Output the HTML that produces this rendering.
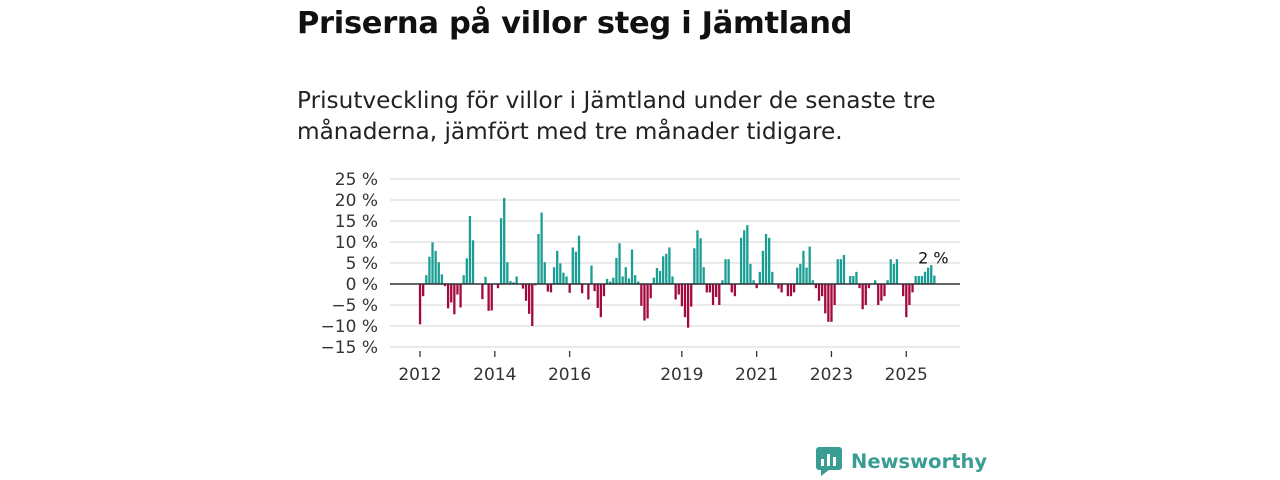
<!DOCTYPE html>
<html><head><meta charset="utf-8"><style>
body{margin:0;width:1280px;height:480px;background:#fff;font-family:"Liberation Sans","DejaVu Sans",sans-serif;overflow:hidden;position:relative}
h1{position:absolute;left:297px;top:6px;margin:0;font-size:30.5px;font-weight:bold;color:#111;font-family:"DejaVu Sans","Liberation Sans",sans-serif;letter-spacing:-0.3px}
.sub{position:absolute;left:297px;top:85px;margin:0;font-size:23.2px;line-height:31px;color:#222;font-family:"DejaVu Sans","Liberation Sans",sans-serif}
</style></head><body>
<h1>Priserna på villor steg i Jämtland</h1>
<p class="sub">Prisutveckling för villor i Jämtland under de senaste tre<br>månaderna, jämfört med tre månader tidigare.</p>
<svg id="chart" width="1280" height="480" style="position:absolute;left:0;top:0" font-family="DejaVu Sans, Liberation Sans, sans-serif"></svg>
<div style="position:absolute;left:815px;top:446px;display:flex;align-items:center;gap:8px">
<svg width="28" height="30"><rect x="1" y="1" width="26" height="23" rx="3" fill="#3a9d93"/><polygon points="6,24 14,24 6,30" fill="#3a9d93"/><rect x="6" y="13" width="3" height="7" fill="#fff"/><rect x="12" y="8" width="3" height="12" fill="#fff"/><rect x="18" y="11" width="3" height="9" fill="#fff"/></svg>
<span style="font-size:19.5px;color:#3a9d93;font-weight:bold;font-family:'DejaVu Sans',sans-serif">Newsworthy</span></div>
<script>
const values=[-9.6,-2.9,2.1,6.5,9.9,7.9,5.2,2.3,-0.5,-5.8,-4.4,-7.2,-2.5,-5.6,2.1,6.1,16.2,10.4,0,0,-3.6,1.7,-6.4,-6.3,0,-1.0,15.7,20.5,5.2,0.7,0.4,1.8,0,-1.1,-4.0,-7.1,-10,-0.3,11.9,17,5.2,-1.8,-2.0,4.0,7.9,4.9,2.7,1.8,-2.1,8.7,7.7,11.5,-2.2,0,-3.7,4.4,-1.7,-5.7,-7.9,-2.9,1.2,0.6,1.5,6.2,9.7,1.8,4.0,1.3,8.2,2.1,0.6,-5.2,-8.7,-8.2,-3.4,1.5,3.8,3.1,6.6,7.2,8.7,1.8,-3.7,-2.5,-5.3,-7.9,-10.4,-5.4,8.5,12.8,10.9,4.0,-2.0,-2.0,-5.0,-3.1,-5.0,0.9,5.9,5.9,-2.0,-2.9,0,11,12.8,14,4.8,0.9,-1.0,2.9,7.9,11.9,11,2.9,0,-1.1,-2.0,0,-2.9,-2.9,-2.0,3.9,4.8,7.9,3.9,8.9,0.9,-1.0,-4.0,-2.9,-7.0,-9.0,-9.0,-5.0,5.9,5.9,6.9,0,1.9,1.9,2.9,-1.0,-6.0,-5.0,-1.0,0,0.9,-5.0,-4.0,-2.9,0.9,5.9,4.8,5.9,0,-2.9,-7.9,-5.0,-2.0,1.9,1.9,1.9,2.9,3.9,4.5,2.0];
const startYear=2012;
const yTicks=[25,20,15,10,5,0,-5,-10,-15];
const xTickYears=[2012,2014,2016,2019,2021,2023,2025];
const NS="http://www.w3.org/2000/svg";
const svg=document.getElementById('chart');
const y=v=>284-v*4.2;
const x=m=>420+m*3.117;
function mk(t,a){const e=document.createElementNS(NS,t);for(const k in a)e.setAttribute(k,a[k]);svg.appendChild(e);return e;}
yTicks.forEach(v=>{
 const g=mk('line',{x1:390,x2:960,y1:y(v),y2:y(v),stroke:'#ddd','stroke-width':1.2});
 
 
 const t=mk('text',{x:378,y:y(v)+6,'text-anchor':'end','font-size':17,fill:'#333'});
 t.textContent=(v<0?'\u2212'+(-v):v)+' %';
 
 
});
xTickYears.forEach(yr=>{
 const xx=x((yr-startYear)*12);
 const l=mk('line',{x1:xx,x2:xx,y1:351,y2:357,stroke:'#333','stroke-width':1.3});
 
 
 const t=mk('text',{x:xx,y:380,'text-anchor':'middle','font-size':17,fill:'#333'});
 t.textContent=yr;
 
 
});
values.forEach((v,i)=>{
 if(v===0)return;
 const r=mk('rect',{x:x(i)-1.1,width:2.3,y:Math.min(y(v),y(0)),height:Math.abs(y(v)-y(0)),fill:v>0?'#1a9e94':'#a3093f'});
 
 
});
const z=mk('line',{x1:390,x2:960,y1:y(0),y2:y(0),stroke:'#333','stroke-width':1.6});


const last=values.length-1;
const lb=mk('text',{x:x(last)-1,y:y(values[last])-12,'text-anchor':'middle','font-size':16,fill:'#111'});
lb.textContent=Math.round(values[last])+' %';


</script>
</body></html>
